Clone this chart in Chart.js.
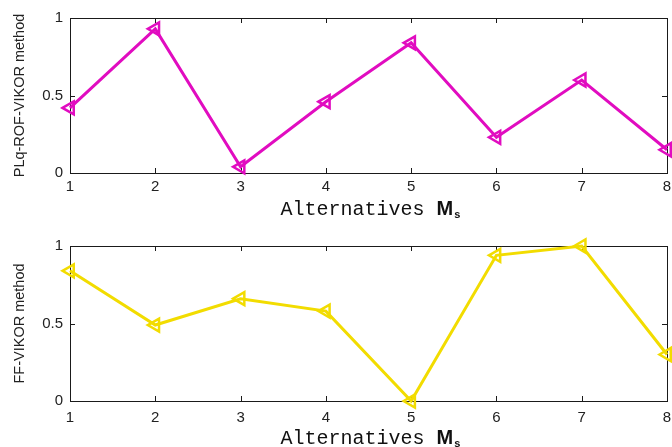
<!DOCTYPE html>
<html><head><meta charset="utf-8">
<script src="https://cdn.jsdelivr.net/npm/chart.js@4/dist/chart.umd.min.js"></script>
<style>
body{margin:0;background:#fff;width:672px;height:447px;overflow:hidden;position:relative}
.w{position:absolute;left:0;width:672px}
</style></head><body>
<div class="w" style="top:0;height:224px"><canvas id="c1"></canvas></div>
<div class="w" style="top:224px;height:223px"><canvas id="c2"></canvas></div>
<script>
const alternatives = ['1','2','3','4','5','6','7','8'];
const plqRofVikor = [0.42, 0.93, 0.04, 0.46, 0.84, 0.23, 0.60, 0.15];
const ffVikor = [0.84, 0.49, 0.66, 0.58, 0.00, 0.94, 1.00, 0.30];
const yTickValues = [0, 0.5, 1];
const xTitleMain = 'Alternatives ';
const xTitleSym = 'M';
const xTitleSub = 's';
const yTitleTop = 'PLq-ROF-VIKOR method';
const yTitleBottom = 'FF-VIKOR method';

const framePlugin = {
  id: 'frame',
  beforeDatasetsDraw(chart) {
    const {ctx, chartArea: a, scales} = chart;
    ctx.save();
    ctx.strokeStyle = '#1a1a1a';
    ctx.lineWidth = 1;
    ctx.strokeRect(Math.round(a.left) + 0.5, Math.round(a.top) + 0.5, Math.round(a.right - a.left), Math.round(a.bottom - a.top));
    ctx.beginPath();
    const tl = 5;
    scales.x.ticks.forEach((t, i) => {
      const px = Math.round(scales.x.getPixelForTick(i)) + 0.5;
      ctx.moveTo(px, a.bottom); ctx.lineTo(px, a.bottom - tl);
      ctx.moveTo(px, a.top); ctx.lineTo(px, a.top + tl);
    });
    scales.y.ticks.forEach(t => {
      const py = Math.round(scales.y.getPixelForValue(t.value)) + 0.5;
      ctx.moveTo(a.left, py); ctx.lineTo(a.left + tl, py);
      ctx.moveTo(a.right, py); ctx.lineTo(a.right - tl, py);
    });
    ctx.stroke();
    ctx.restore();
  },
  afterDraw(chart) {
    const o = chart.options.plugins.frame;
    const {ctx, chartArea: a} = chart;
    ctx.save();
    ctx.fillStyle = '#222';
    ctx.font = '14.5px "Liberation Sans", Arial, sans-serif';
    ctx.textAlign = 'center';
    ctx.textBaseline = 'middle';
    ctx.translate(20, (a.top + a.bottom) / 2);
    ctx.rotate(-Math.PI / 2);
    ctx.fillText(o.yTitle, 0, 0);
    ctx.restore();
    ctx.save();
    ctx.fillStyle = '#111';
    ctx.textBaseline = 'alphabetic';
    ctx.textAlign = 'left';
    const f1 = '20px "Liberation Mono", "Courier New", monospace';
    const f2 = 'bold 20px "Liberation Sans", Arial, sans-serif';
    const f3 = 'bold 11px "Liberation Sans", Arial, sans-serif';
    ctx.font = f1; const w1 = ctx.measureText(xTitleMain).width;
    ctx.font = f2; const w2 = ctx.measureText(xTitleSym).width;
    ctx.font = f3; const w3 = ctx.measureText(xTitleSub).width;
    const total = w1 + w2 + 1 + w3;
    let x = (a.left + a.right) / 2 - total / 2 + 2;
    const y = o.titleBase;
    ctx.font = f1; ctx.fillText(xTitleMain, x, y); x += w1;
    ctx.font = f2; ctx.fillText(xTitleSym, x, y); x += w2 + 1;
    ctx.font = f3; ctx.fillText(xTitleSub, x, y + 3);
    ctx.restore();
  }
};

function makeChart(id, values, color, yTitle, cfg) {
  return new Chart(document.getElementById(id), {
    type: 'line',
    data: {
      labels: alternatives,
      datasets: [{
        data: values,
        borderColor: color,
        backgroundColor: 'rgba(0,0,0,0)',
        borderWidth: 3,
        pointStyle: 'triangle',
        pointRotation: -90,
        pointRadius: 7.5,
        pointBorderWidth: 2.5,
        pointBorderColor: color,
        pointBackgroundColor: 'rgba(0,0,0,0)',
        tension: 0,
        clip: false
      }]
    },
    options: {
      responsive: true,
      maintainAspectRatio: false,
      animation: false,
      layout: {autoPadding: false, padding: {left: 0, right: 5, top: cfg.top, bottom: 0}},
      plugins: {
        legend: {display: false},
        tooltip: {enabled: false},
        frame: {yTitle: yTitle, titleBase: cfg.titleBase}
      },
      scales: {
        x: {
          type: 'category',
          offset: false,
          grid: {display: false, drawTicks: false},
          border: {display: false},
          ticks: {
            color: '#222',
            padding: cfg.tickPad,
            font: {family: '"Liberation Sans", Arial, sans-serif', size: 15},
            maxRotation: 0, autoSkip: false
          },
          afterFit(s) { s.height = cfg.xHeight; s.paddingRight = 0; s.paddingLeft = 0; }
        },
        y: {
          min: 0, max: 1,
          grid: {display: false, drawTicks: false},
          border: {display: false},
          afterBuildTicks(s) { s.ticks = yTickValues.map(v => ({value: v})); },
          ticks: {
            color: '#222',
            padding: 7,
            font: {family: '"Liberation Sans", Arial, sans-serif', size: 15},
            callback: v => String(v)
          },
          afterFit(s) { s.width = 70; s.paddingTop = 0; s.paddingBottom = 0; }
        }
      }
    },
    plugins: [framePlugin]
  });
}

makeChart('c1', plqRofVikor, '#e10cc0', yTitleTop, {top: 18, xHeight: 51, tickPad: 5, titleBase: 215});
makeChart('c2', ffVikor, '#f2dc00', yTitleBottom, {top: 22, xHeight: 46, tickPad: 8, titleBase: 220});
</script>
</body></html>
